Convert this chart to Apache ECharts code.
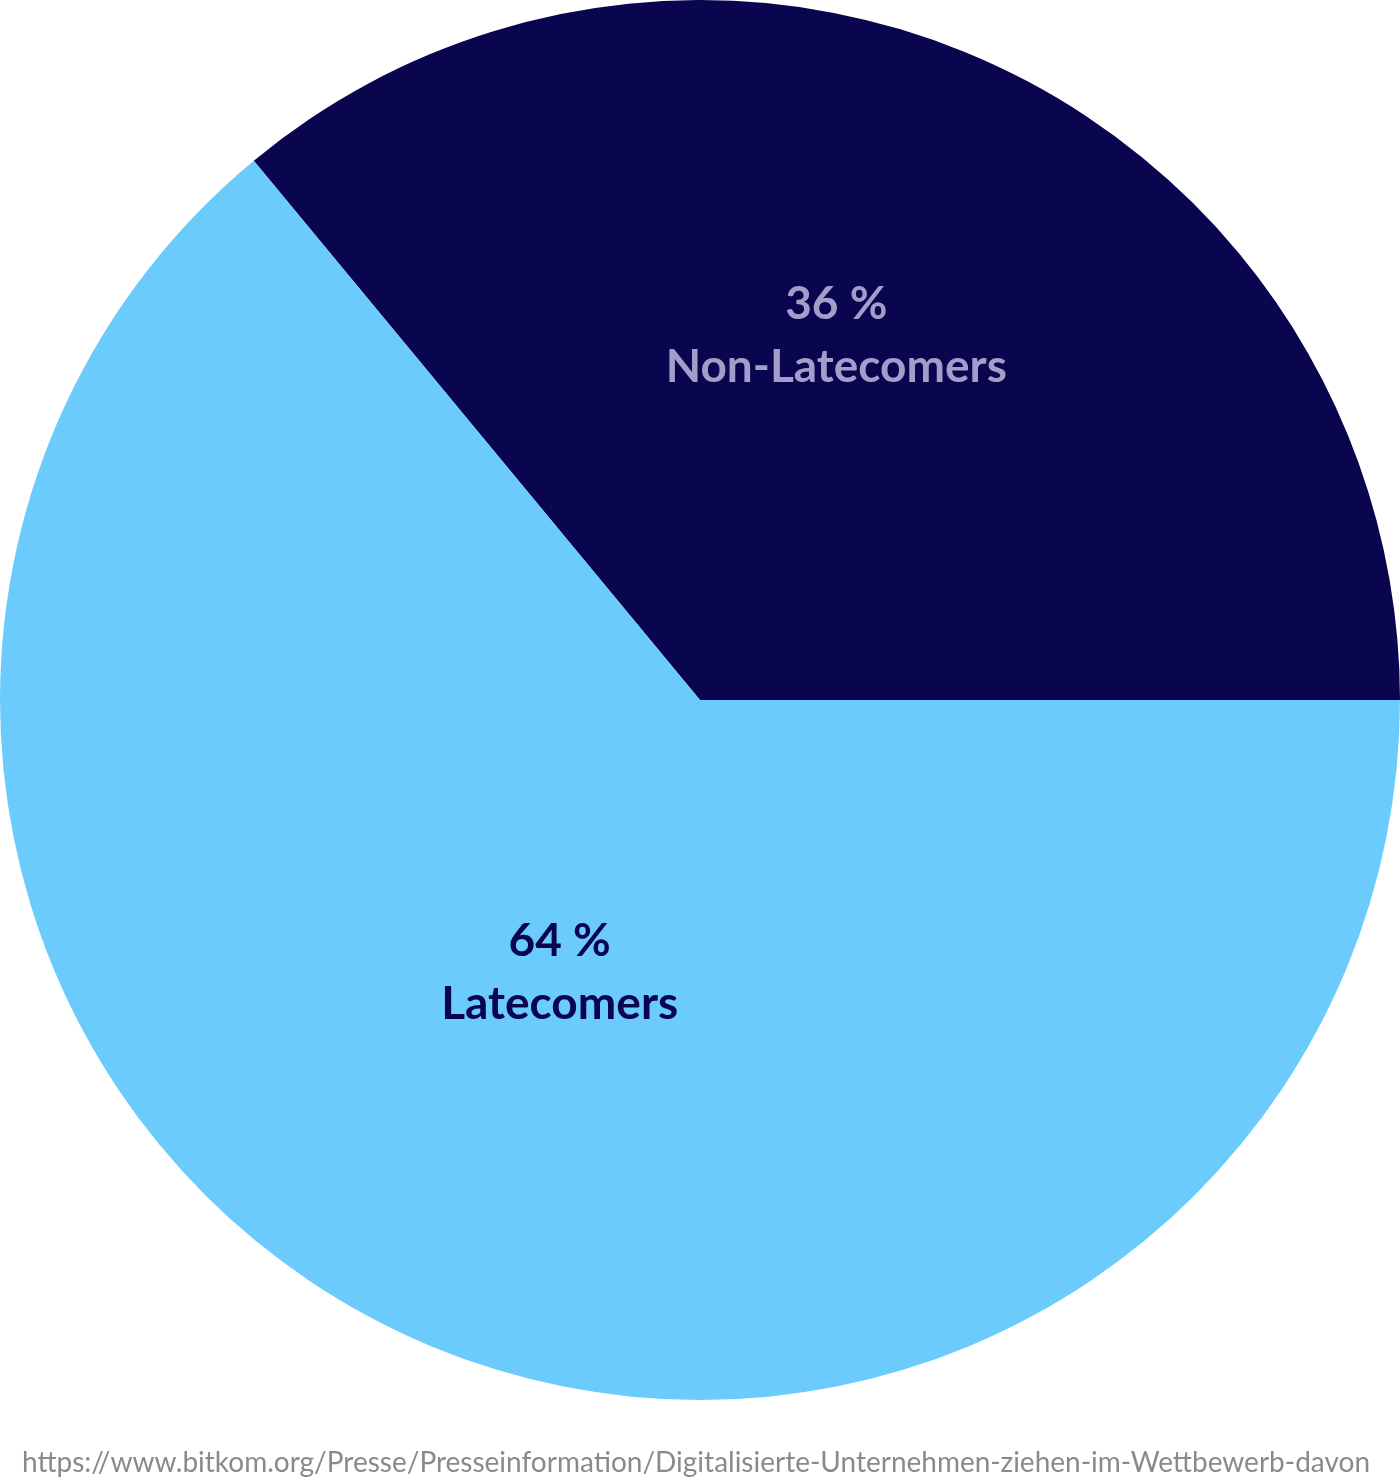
<!DOCTYPE html>
<html>
<head>
<meta charset="utf-8">
<script src="https://cdn.jsdelivr.net/npm/echarts@6/dist/echarts.min.js"></script>
<style>
html, body { margin: 0; padding: 0; background: #fff; }
#chart { width: 1400px; height: 1479px; }
</style>
</head>
<body>
<div id="chart"></div>
<script>
var categories = ['Non-Latecomers', 'Latecomers'];
var shares = [36, 64];
var sliceColors = ['#0a054f', '#6bcbfd'];
var labelColors = ['#a19fc9', '#0a054f'];
var labelOffsets = [[-14, -45], [10, -47]];
var sourceText = 'https://www.bitkom.org/Presse/Presseinformation/Digitalisierte-Unternehmen-ziehen-im-Wettbewerb-davon';

var myChart = echarts.init(document.getElementById('chart'));
var pieData = [];
for (var i = 0; i < categories.length; i++) {
    pieData.push({
        name: categories[i],
        value: shares[i],
        itemStyle: { color: sliceColors[i] },
        label: { color: labelColors[i], offset: labelOffsets[i] }
    });
}
var option = {
    animation: false,
    graphic: [{
        type: 'text',
        left: 22,
        top: 1449,
        style: {
            text: sourceText,
            fill: '#8a8a8a',
            font: '28px Lato'
        }
    }],
    series: [{
        type: 'pie',
        center: [700, 700],
        radius: [0, 700],
        startAngle: 129.6,
        clockwise: true,
        label: {
            show: true,
            position: 'inside',
            formatter: '{c} %\n{b}',
            fontFamily: 'Lato',
            fontWeight: 'bold',
            fontSize: 46,
            lineHeight: 63
        },
        labelLine: { show: false },
        emphasis: { disabled: true },
        data: pieData
    }]
};
myChart.setOption(option);
</script>
</body>
</html>
